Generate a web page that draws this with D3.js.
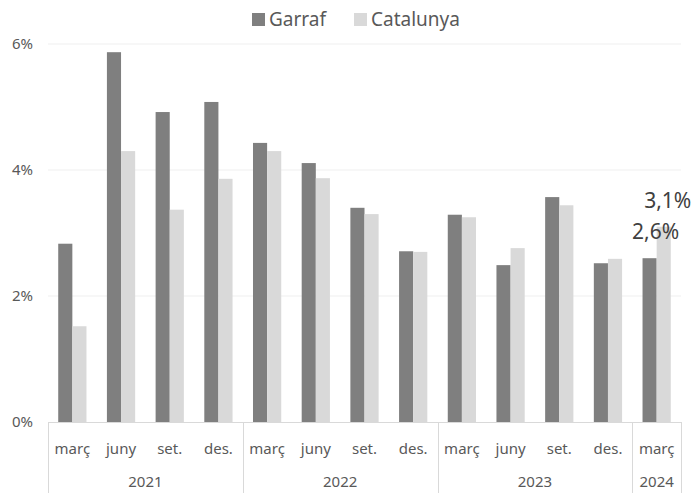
<!DOCTYPE html>
<html>
<head>
<meta charset="utf-8">
<script src="https://cdn.jsdelivr.net/npm/d3@7"></script>
<style>
  body { margin: 0; background: #fff; }
  text { font-family: "Noto Sans", "Open Sans", sans-serif; fill: #595959; }
</style>
</head>
<body>
<div id="chart"></div>
<script>
// Dades
const months = ["març", "juny", "set.", "des.", "març", "juny", "set.", "des.", "març", "juny", "set.", "des.", "març"];
const years = [
  { year: "2021", from: 0, to: 3 },
  { year: "2022", from: 4, to: 7 },
  { year: "2023", from: 8, to: 11 },
  { year: "2024", from: 12, to: 12 }
];
const series = ["Garraf", "Catalunya"];
const garraf = [2.83, 5.87, 4.92, 5.08, 4.43, 4.11, 3.40, 2.71, 3.29, 2.49, 3.57, 2.52, 2.60];
const catalunya = [1.52, 4.30, 3.37, 3.86, 4.30, 3.87, 3.30, 2.70, 3.25, 2.76, 3.44, 2.59, 3.10];
const yTicks = [0, 2, 4, 6];
const colors = ["#7f7f7f", "#d9d9d9"];

const width = 697, height = 493;
const margin = { top: 44, right: 16, bottom: 71, left: 48 };

const svg = d3.select('#chart')
  .append('svg')
  .attr('width', width)
  .attr('height', height);

const idx = d3.range(months.length);

const x = d3.scaleBand()
  .domain(idx)
  .range([margin.left, width - margin.right])
  .paddingInner(0.42)
  .paddingOuter(0.21);

const xInner = d3.scaleBand()
  .domain(series)
  .range([0, x.bandwidth()]);

const y = d3.scaleLinear()
  .domain([0, 6])
  .range([height - margin.bottom, margin.top]);

const step = x.step();
const x0 = margin.left;

// Línies de graella
svg.append('g')
  .selectAll('line')
  .data(yTicks.filter(d => d > 0))
  .enter()
  .append('line')
  .attr('x1', margin.left)
  .attr('x2', width - margin.right)
  .attr('y1', d => y(d))
  .attr('y2', d => y(d))
  .attr('stroke', '#efefef')
  .attr('stroke-width', 1);

// Eix Y
svg.append('g')
  .selectAll('text')
  .data(yTicks)
  .enter()
  .append('text')
  .attr('x', 33)
  .attr('y', d => y(d) + 5)
  .attr('text-anchor', 'end')
  .style('font-size', '15px')
  .text(d => d + '%');

// Barres
const data = idx.map(i => ({ i, values: [garraf[i], catalunya[i]] }));

svg.append('g')
  .selectAll('g')
  .data(data)
  .enter()
  .append('g')
  .attr('transform', d => `translate(${x(d.i)},0)`)
  .selectAll('rect')
  .data(d => d.values.map((v, k) => ({ key: series[k], value: v, k })))
  .enter()
  .append('rect')
  .attr('x', d => xInner(d.key))
  .attr('y', d => y(d.value))
  .attr('width', xInner.bandwidth())
  .attr('height', d => y(0) - y(d.value))
  .attr('fill', d => colors[d.k]);

// Eix X amb caixes
const axis = svg.append('g').attr('stroke', '#d9d9d9').attr('stroke-width', 1);
axis.append('line')
  .attr('x1', margin.left)
  .attr('x2', width - margin.right)
  .attr('y1', y(0) + 0.5)
  .attr('y2', y(0) + 0.5);

const bounds = years.map(d => d.from).concat([months.length]);
axis.selectAll('.sep')
  .data(bounds)
  .enter()
  .append('line')
  .attr('x1', d => Math.round(x0 + d * step) + 0.5)
  .attr('x2', d => Math.round(x0 + d * step) + 0.5)
  .attr('y1', y(0))
  .attr('y2', height);

svg.append('g')
  .selectAll('text')
  .data(idx)
  .enter()
  .append('text')
  .attr('x', i => x(i) + x.bandwidth() / 2)
  .attr('y', y(0) + 32)
  .attr('text-anchor', 'middle')
  .style('font-size', '15px')
  .text(i => months[i]);

svg.append('g')
  .selectAll('text')
  .data(years)
  .enter()
  .append('text')
  .attr('x', d => x0 + (d.from + d.to + 1) / 2 * step)
  .attr('y', y(0) + 65)
  .attr('text-anchor', 'middle')
  .style('font-size', '15px')
  .text(d => d.year);

// Etiquetes de l'últim valor
const last = months.length - 1;
svg.append('text')
  .attr('x', x(last) + xInner('Catalunya') + xInner.bandwidth() / 2 + 4)
  .attr('y', y(catalunya[last]) - 19)
  .attr('text-anchor', 'middle')
  .style('font-size', '21px')
  .style('fill', '#404040')
  .text(catalunya[last].toFixed(1).replace('.', ',') + '%');

svg.append('text')
  .attr('x', x(last) + xInner('Garraf') + xInner.bandwidth() / 2 + 6)
  .attr('y', y(garraf[last]) - 19)
  .attr('text-anchor', 'middle')
  .style('font-size', '21px')
  .style('fill', '#404040')
  .text(garraf[last].toFixed(1).replace('.', ',') + '%');

// Llegenda
const legendX = [252, 354];
const legend = svg.append('g')
  .selectAll('g')
  .data(series)
  .enter()
  .append('g')
  .attr('transform', (d, k) => `translate(${legendX[k]},13)`);

legend.append('rect')
  .attr('width', 13)
  .attr('height', 13)
  .attr('fill', (d, k) => colors[k]);

legend.append('text')
  .attr('x', 17)
  .attr('y', 13)
  .style('font-size', '19px')
  .text(d => d);
</script>
</body>
</html>
